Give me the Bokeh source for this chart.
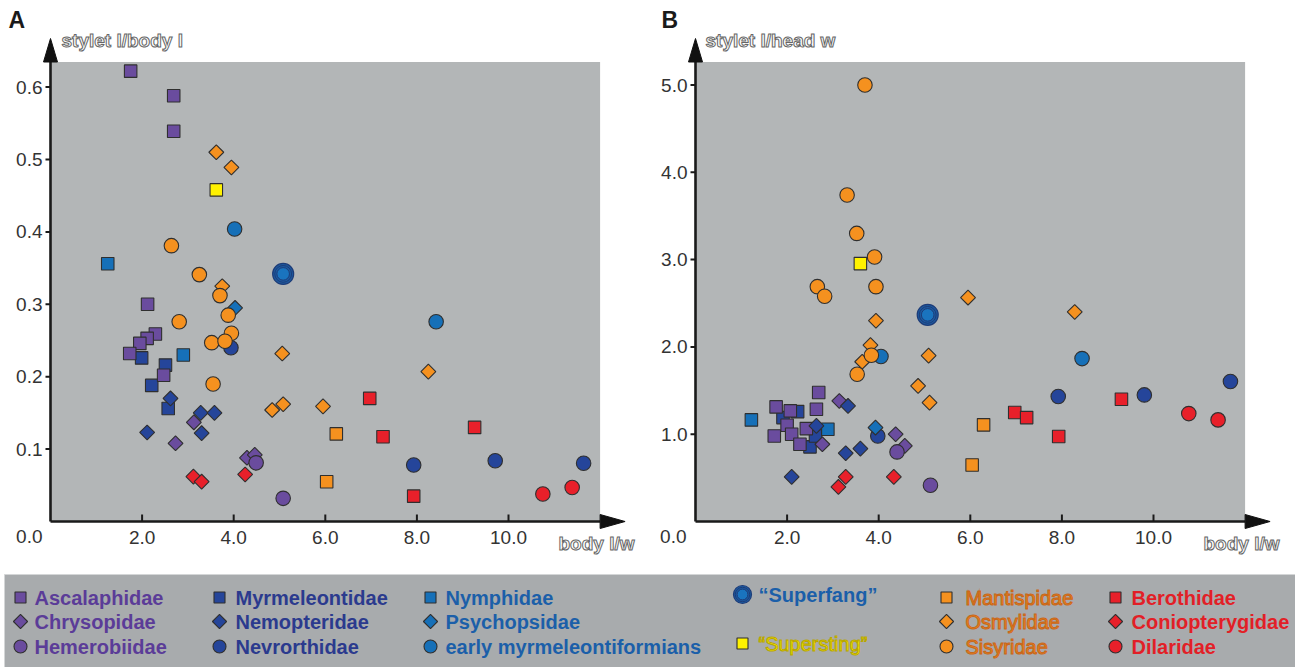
import math
from bokeh.plotting import figure
from bokeh.models import Range1d
from bokeh.layouts import column, row
from bokeh.embed import file_html
from bokeh.resources import INLINE
from bokeh.core.properties import value

# ------------------------------------------------------------------ data
x_ticks = [2, 4, 6, 8, 10]
x_tick_labels = ["2.0", "4.0", "6.0", "8.0", "10.0"]
yA_ticks = [0.1, 0.2, 0.3, 0.4, 0.5, 0.6]
yA_tick_labels = ["0.1", "0.2", "0.3", "0.4", "0.5", "0.6"]
yB_ticks = [1, 2, 3, 4, 5]
yB_tick_labels = ["1.0", "2.0", "3.0", "4.0", "5.0"]
origin_label = "0.0"
titleA_y = "stylet l/body l"
titleB_y = "stylet l/head w"
title_x = "body l/w"
panel_letters = ["A", "B"]

ascalaphidae_A_x = [1.75, 2.69, 2.69, 2.12, 2.29, 2.11, 1.95, 1.73, 2.47]
ascalaphidae_A_y = [0.622, 0.588, 0.539, 0.300, 0.259, 0.253, 0.246, 0.232, 0.202]
ascalaphidae_B_x = [2.69, 2.64, 1.76, 2.07, 2.00, 1.72, 2.10, 2.28, 2.42]
ascalaphidae_B_y = [1.477, 1.286, 1.313, 1.267, 1.103, 0.980, 1.000, 0.885, 1.064]

myrmeleontidae_A_x = [1.99, 2.51, 2.21, 2.57]
myrmeleontidae_A_y = [0.226, 0.216, 0.188, 0.156]
myrmeleontidae_B_x = [2.23, 1.91, 2.50, 2.62]
myrmeleontidae_B_y = [1.259, 1.190, 0.855, 0.980]

nymphidae_A_x = [1.25, 2.90]
nymphidae_A_y = [0.356, 0.230]
nymphidae_B_x = [1.22, 2.89]
nymphidae_B_y = [1.164, 1.057]

chrysopidae_A_x = [3.13, 2.73, 4.29, 4.46]
chrysopidae_A_y = [0.137, 0.108, 0.088, 0.092]
chrysopidae_B_x = [3.14, 2.77, 4.37, 4.57]
chrysopidae_B_y = [1.381, 0.885, 1.000, 0.866]

nemopteridae_A_x = [2.62, 3.28, 3.58, 3.30, 2.11]
nemopteridae_A_y = [0.170, 0.150, 0.150, 0.122, 0.123]
nemopteridae_B_x = [3.33, 2.64, 3.28, 3.60, 2.10]
nemopteridae_B_y = [1.324, 1.095, 0.782, 0.835, 0.511]

psychopsidae_A_x = [4.03]
psychopsidae_A_y = [0.295]
psychopsidae_B_x = [3.93]
psychopsidae_B_y = [1.076]

hemerobiidae_A_x = [4.49, 5.08]
hemerobiidae_A_y = [0.081, 0.032]
hemerobiidae_B_x = [4.40, 5.13]
hemerobiidae_B_y = [0.797, 0.415]

nevrorthidae_A_x = [3.94, 7.93, 9.71, 11.64]
nevrorthidae_A_y = [0.240, 0.078, 0.084, 0.0805]
nevrorthidae_B_x = [3.98, 7.92, 9.80, 11.68]
nevrorthidae_B_y = [0.980, 1.431, 1.450, 1.603]

early_A_x = [4.02, 8.42]
early_A_y = [0.404, 0.276]
early_B_x = [4.05, 8.44]
early_B_y = [1.890, 1.866]

superfang_A_x = [5.08]
superfang_A_y = [0.342]
superfang_B_x = [5.07]
superfang_B_y = [2.367]

supersting_A_x = [3.62]
supersting_A_y = [0.458]
supersting_B_x = [3.60]
supersting_B_y = [2.954]

mantispidae_A_x = [6.24, 6.03]
mantispidae_A_y = [0.121, 0.055]
mantispidae_B_x = [6.29, 6.04]
mantispidae_B_y = [1.107, 0.648]

osmylidae_A_x = [3.62, 3.95, 3.75, 5.06, 4.84, 5.08, 5.95, 8.25]
osmylidae_A_y = [0.510, 0.489, 0.325, 0.232, 0.154, 0.162, 0.159, 0.207]
osmylidae_B_x = [3.94, 3.82, 3.64, 5.09, 4.86, 5.11, 5.95, 8.28]
osmylidae_B_y = [2.300, 2.020, 1.830, 1.900, 1.553, 1.362, 2.565, 2.400]

sisyridae_A_x = [2.64, 3.25, 3.70, 2.81, 3.88, 3.95, 3.52, 3.81, 3.55]
sisyridae_A_y = [0.381, 0.341, 0.312, 0.276, 0.285, 0.260, 0.247, 0.249, 0.190]
sisyridae_B_x = [3.70, 3.31, 3.52, 3.91, 2.66, 2.82, 3.94, 3.84, 3.53]
sisyridae_B_y = [5.000, 3.740, 3.300, 3.030, 2.690, 2.580, 2.690, 1.905, 1.687]

berothidae_A_x = [6.97, 7.26, 9.26, 7.93]
berothidae_A_y = [0.170, 0.117, 0.130, 0.035]
berothidae_B_x = [6.97, 7.23, 9.30, 7.93]
berothidae_B_y = [1.248, 1.190, 1.400, 0.973]

coniopterygidae_A_x = [3.12, 3.30, 4.25]
coniopterygidae_A_y = [0.062, 0.055, 0.065]
coniopterygidae_B_x = [3.28, 3.12, 4.33]
coniopterygidae_B_y = [0.511, 0.396, 0.511]

dilaridae_A_x = [10.75, 11.39]
dilaridae_A_y = [0.038, 0.047]
dilaridae_B_x = [10.77, 11.41]
dilaridae_B_y = [1.236, 1.164]

# ------------------------------------------------------------------ styles
FONT = "Liberation Sans"
PURPLE, DKBLUE, MIDBLUE = "#6a4c9e", "#25459a", "#1670b8"
ORANGE, RED, YELLOW = "#f5911f", "#e8202a", "#fff200"
T_PURPLE, T_DKBLUE, T_MIDBLUE = "#5b3c98", "#2b3a8e", "#1b5fa9"
T_ORANGE, T_RED = "#f28a1c", "#e21f27"
EDGE = "#2f2f2f"
PLOT_GRAY = "#b3b6b7"
BAND_GRAY = "#a8abad"
AXIS_C = "#1a1a1a"
TICK_C = "#333333"

# name, A x/y, B x/y, marker kind, fill, text colour, bold, text outline
families = [
    ("Ascalaphidae", ascalaphidae_A_x, ascalaphidae_A_y, ascalaphidae_B_x, ascalaphidae_B_y, "sq", PURPLE, T_PURPLE, True, None),
    ("Chrysopidae", chrysopidae_A_x, chrysopidae_A_y, chrysopidae_B_x, chrysopidae_B_y, "di", PURPLE, T_PURPLE, True, None),
    ("Hemerobiidae", hemerobiidae_A_x, hemerobiidae_A_y, hemerobiidae_B_x, hemerobiidae_B_y, "ci", PURPLE, T_PURPLE, True, None),
    ("Myrmeleontidae", myrmeleontidae_A_x, myrmeleontidae_A_y, myrmeleontidae_B_x, myrmeleontidae_B_y, "sq", DKBLUE, T_DKBLUE, True, None),
    ("Nemopteridae", nemopteridae_A_x, nemopteridae_A_y, nemopteridae_B_x, nemopteridae_B_y, "di", DKBLUE, T_DKBLUE, True, None),
    ("Nevrorthidae", nevrorthidae_A_x, nevrorthidae_A_y, nevrorthidae_B_x, nevrorthidae_B_y, "ci", DKBLUE, T_DKBLUE, True, None),
    ("Nymphidae", nymphidae_A_x, nymphidae_A_y, nymphidae_B_x, nymphidae_B_y, "sq", MIDBLUE, T_MIDBLUE, True, None),
    ("Psychopsidae", psychopsidae_A_x, psychopsidae_A_y, psychopsidae_B_x, psychopsidae_B_y, "di", MIDBLUE, T_MIDBLUE, True, None),
    ("early myrmeleontiformians", early_A_x, early_A_y, early_B_x, early_B_y, "ci", MIDBLUE, T_MIDBLUE, True, None),
    ("\u201cSuperfang\u201d", superfang_A_x, superfang_A_y, superfang_B_x, superfang_B_y, "fang", MIDBLUE, T_MIDBLUE, True, None),
    ("\u201cSupersting\u201d", supersting_A_x, supersting_A_y, supersting_B_x, supersting_B_y, "sq", YELLOW, "#fff000", False, "#b8a600"),
    ("Mantispidae", mantispidae_A_x, mantispidae_A_y, mantispidae_B_x, mantispidae_B_y, "sq", ORANGE, T_ORANGE, False, "#c8661a"),
    ("Osmylidae", osmylidae_A_x, osmylidae_A_y, osmylidae_B_x, osmylidae_B_y, "di", ORANGE, T_ORANGE, False, "#c8661a"),
    ("Sisyridae", sisyridae_A_x, sisyridae_A_y, sisyridae_B_x, sisyridae_B_y, "ci", ORANGE, T_ORANGE, False, "#c8661a"),
    ("Berothidae", berothidae_A_x, berothidae_A_y, berothidae_B_x, berothidae_B_y, "sq", RED, T_RED, True, None),
    ("Coniopterygidae", coniopterygidae_A_x, coniopterygidae_A_y, coniopterygidae_B_x, coniopterygidae_B_y, "di", RED, T_RED, True, None),
    ("Dilaridae", dilaridae_A_x, dilaridae_A_y, dilaridae_B_x, dilaridae_B_y, "ci", RED, T_RED, True, None),
]
fam = {f[0]: f for f in families}
draw_order = ["Nevrorthidae", "early myrmeleontiformians", "Psychopsidae", "Myrmeleontidae",
              "Ascalaphidae", "Nymphidae", "Chrysopidae", "Nemopteridae", "Hemerobiidae",
              "Berothidae", "Coniopterygidae", "Dilaridae", "Mantispidae", "Osmylidae",
              "Sisyridae", "\u201cSupersting\u201d", "\u201cSuperfang\u201d"]

SQ, DI, CI = 12.5, 10.5, 14.5

def draw_marker(p, xs, ys, kind, fill, sq=SQ, di=DI, ci=CI, fang=21):
    if kind == "sq":
        p.scatter(xs, ys, marker="square", size=sq, fill_color=fill, line_color=EDGE, line_width=1.1)
    elif kind == "di":
        p.scatter(xs, ys, marker="square", size=di, angle=math.pi / 4, fill_color=fill, line_color=EDGE, line_width=1.1)
    elif kind == "ci":
        p.scatter(xs, ys, marker="circle", size=ci, fill_color=fill, line_color=EDGE, line_width=1.1)
    else:
        p.scatter(xs, ys, marker="circle", size=fang, fill_color="#1c5aa0", line_color="#1d3c78", line_width=1.2)
        p.scatter(xs, ys, marker="circle", size=fang * 0.8, fill_color=None, line_color="#1d3c78", line_width=1.0)
        p.scatter(xs, ys, marker="circle", size=fang * 0.6, fill_color="#1a74bf", line_color="#1d3c78", line_width=1.0)

# ------------------------------------------------------------------ panels
PX_X = 45.8          # pixels per x unit
ROW_H = 568          # height of the two panels
AXIS_Y_PX = 521      # pixel row of the x axis (from top)

def make_panel(which, fig_w, axis_x_px, px_y, yticks, ylabels, ytitle, letter,
               letter_px, origin_gap, title_px):
    dx = lambda v: v / PX_X
    dy = lambda v: v / px_y
    x0 = -dx(axis_x_px)
    x1 = x0 + dx(fig_w)
    y1 = dy(AXIS_Y_PX)
    y0 = y1 - dy(ROW_H)
    p = figure(width=fig_w, height=ROW_H, x_range=Range1d(x0, x1), y_range=Range1d(y0, y1),
               x_axis_type=None, y_axis_type=None,
               output_backend="svg", toolbar_location=None, min_border=0)
    p.outline_line_color = None
    p.background_fill_color = "white"
    p.border_fill_color = "white"

    gray_right = 12.0
    gray_top = dy(459.5)
    p.quad(left=[0], right=[gray_right], bottom=[0], top=[gray_top], fill_color=PLOT_GRAY, line_color=None)

    # points
    for name in draw_order:
        f = fam[name]
        xs, ys = (f[1], f[2]) if which == "A" else (f[3], f[4])
        draw_marker(p, xs, ys, f[5], f[6])

    # tick marks
    p.segment(x0=[-dx(5)] * len(yticks), y0=yticks, x1=[0] * len(yticks), y1=yticks,
              line_color=AXIS_C, line_width=2)
    p.segment(x0=x_ticks, y0=[0] * len(x_ticks), x1=x_ticks, y1=[dy(7)] * len(x_ticks),
              line_color=AXIS_C, line_width=2)

    # axes with arrows
    p.segment(x0=[0, 0], y0=[0, 0], x1=[0, gray_right], y1=[gray_top, 0], line_color=AXIS_C, line_width=2.6)
    p.patches(xs=[[-dx(7), dx(7), 0], [gray_right, gray_right, gray_right + dx(25)]],
              ys=[[gray_top, gray_top, dy(483)], [dy(7), -dy(7), 0]],
              fill_color="#111111", line_color="#111111", line_width=1)

    # tick labels
    lab = dict(text_font=value(FONT), text_font_size="19px", text_color=TICK_C)
    p.text(x=[-dx(8)] * len(yticks), y=yticks, text=ylabels, text_align="right", text_baseline="middle", **lab)
    p.text(x=x_ticks, y=[-dy(16)] * len(x_ticks), text=x_tick_labels, text_align="center",
           text_baseline="middle", **lab)
    p.text(x=[-dx(origin_gap)], y=[-dy(15)], text=[origin_label], text_align="right",
           text_baseline="middle", **lab)

    # axis titles (hollow lettering)
    hollow = dict(text_font=value(FONT), text_font_size="19px", text_font_style="bold",
                  text_color="white", text_outline_color="#666666",
                  text_align="left", text_baseline="middle")
    p.text(x=[dx(title_px)], y=[dy(481)], text=[ytitle], **hollow)
    p.text(x=[dx(508)], y=[-dy(22)], text=[title_x], **hollow)

    # panel letter
    p.text(x=[-dx(letter_px)], y=[dy(AXIS_Y_PX - 6)], text=[letter], text_font=value(FONT),
           text_font_size="23px", text_font_style="bold", text_color="#1a1a1a",
           text_align="left", text_baseline="top")
    return p

pA = make_panel("A", 648, 50, 724.0, yA_ticks, yA_tick_labels, titleA_y, panel_letters[0], 42, 8, 11)
pB = make_panel("B", 647, 47, 87.3, yB_ticks, yB_tick_labels, titleB_y, panel_letters[1], 34, 9, 10)

# ------------------------------------------------------------------ legend band
leg_cells = {
    "Ascalaphidae": (0, 0), "Chrysopidae": (0, 1), "Hemerobiidae": (0, 2),
    "Myrmeleontidae": (1, 0), "Nemopteridae": (1, 1), "Nevrorthidae": (1, 2),
    "Nymphidae": (2, 0), "Psychopsidae": (2, 1), "early myrmeleontiformians": (2, 2),
    "\u201cSuperfang\u201d": (3, 0), "\u201cSupersting\u201d": (3, 2),
    "Mantispidae": (4, 0), "Osmylidae": (4, 1), "Sisyridae": (4, 2),
    "Berothidae": (5, 0), "Coniopterygidae": (5, 1), "Dilaridae": (5, 2),
}
col_marker_x = [20, 219, 430, 742, 946, 1115]
col_text_x = [34, 235, 445, 758, 965, 1131]
row_y = [597, 621, 646]
special_row_y = {"\u201cSuperfang\u201d": 594, "\u201cSupersting\u201d": 643}

LEG_TOP = ROW_H
LEG_H = 667 - ROW_H
leg = figure(width=1295, height=LEG_H, x_range=Range1d(0, 1295), y_range=Range1d(LEG_TOP + LEG_H, LEG_TOP),
             x_axis_type=None, y_axis_type=None, output_backend="svg", toolbar_location=None,
             min_border=0)
leg.outline_line_color = None
leg.background_fill_color = "white"
leg.border_fill_color = "white"
leg.quad(left=[4], right=[1295], top=[574], bottom=[LEG_TOP + LEG_H], fill_color=BAND_GRAY,
         line_color="#d4d6d7", line_width=1)
for name, (c, r) in leg_cells.items():
    f = fam[name]
    yy = special_row_y.get(name, row_y[r])
    draw_marker(leg, [col_marker_x[c]], [yy], f[5], f[6], sq=11, di=10, ci=13, fang=18)
    kw = dict(text_font=value(FONT), text_font_size="20px", text_color=f[7],
              text_font_style="bold" if f[8] else "normal", text_align="left", text_baseline="middle")
    if f[9]:
        kw["text_outline_color"] = f[9]
    leg.text(x=[col_text_x[c]], y=[yy], text=[name], **kw)

layout = column(row(pA, pB), leg)
open("out.html", "w").write(file_html(layout, INLINE))
